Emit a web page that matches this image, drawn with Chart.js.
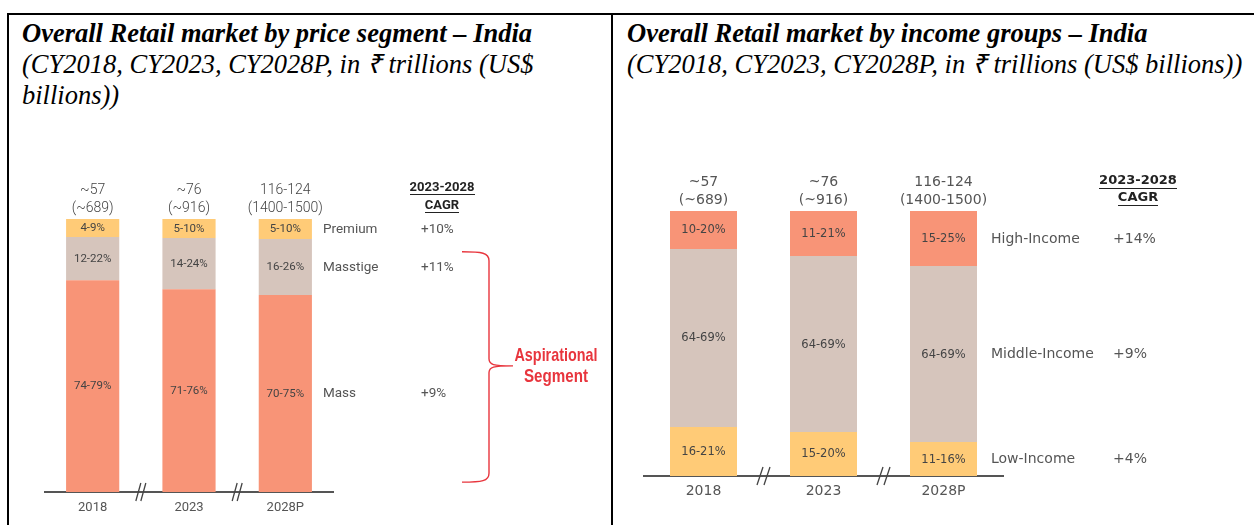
<!DOCTYPE html>
<html><head><meta charset="utf-8">
<script src="https://cdn.jsdelivr.net/npm/chart.js@4.4.1/dist/chart.umd.min.js"></script>
<style>
html,body{margin:0;padding:0;background:#fff;}
body{width:1254px;height:525px;position:relative;overflow:hidden;}
.frame{position:absolute;left:7px;top:13px;width:1260px;height:520px;border-top:2px solid #000;border-left:2px solid #000;}
.divider{position:absolute;left:611px;top:13px;width:2px;height:520px;background:#000;}
.title{position:absolute;top:18px;font-family:"Liberation Serif","Times New Roman",serif;font-size:26.5px;line-height:31px;color:#000;white-space:nowrap;}
.title b{font-weight:bold;font-style:italic;}
.title i{font-style:italic;}
canvas{position:absolute;}
</style></head><body>
<div class="frame"></div>
<div class="divider"></div>
<div class="title" style="left:22px"><b>Overall Retail market by price segment – India</b><br><i>(CY2018, CY2023, CY2028P, in ₹ trillions (US$<br>billions))</i></div>
<div class="title" style="left:627px"><b>Overall Retail market by income groups – India</b><br><i>(CY2018, CY2023, CY2028P, in ₹ trillions (US$ billions))</i></div>
<canvas id="c1" width="603" height="415" style="left:8px;top:110px"></canvas>
<canvas id="c2" width="641" height="415" style="left:613px;top:110px"></canvas>
<script>
// ---------- data ----------
const categories = ['2018', '2023', '2028P'];
const totalsINR = ['~57', '~76', '116-124'];
const totalsUSD = ['(~689)', '(~916)', '(1400-1500)'];
const cagrHeader = ['2023-2028', 'CAGR'];

// price segments (bottom to top)
const priceSegments = ['Mass', 'Masstige', 'Premium'];
const massValues = [77.6, 74.3, 72.2];
const masstigeValues = [15.8, 18.7, 20.5];
const premiumValues = [6.6, 7.0, 7.3];
const massLabels = ['74-79%', '71-76%', '70-75%'];
const masstigeLabels = ['12-22%', '14-24%', '16-26%'];
const premiumLabels = ['4-9%', '5-10%', '5-10%'];
const priceCagr = ['+9%', '+11%', '+10%'];
const bracketText = ['Aspirational', 'Segment'];

// income groups (bottom to top)
const incomeGroups = ['Low-Income', 'Middle-Income', 'High-Income'];
const lowValues = [18.5, 16.6, 12.8];
const middleValues = [67.2, 66.4, 66.4];
const highValues = [14.3, 17.0, 20.8];
const lowLabels = ['16-21%', '15-20%', '11-16%'];
const middleLabels = ['64-69%', '64-69%', '64-69%'];
const highLabels = ['10-20%', '11-21%', '15-25%'];
const incomeCagr = ['+4%', '+9%', '+14%'];

const SALMON = '#F89477', BEIGE = '#D6C5BC', YELLOW = '#FFCB77';

// ---------- overlay plugin ----------
const overlay = {
  id: 'overlay',
  afterDraw(chart, args, o) {
    const ctx = chart.ctx, ca = chart.chartArea, ys = chart.scales.y;
    const n = chart.data.labels.length;
    const metas = chart.data.datasets.map((d, i) => chart.getDatasetMeta(i));
    ctx.save();
    ctx.textBaseline = 'middle';
    // in-bar labels
    ctx.textAlign = 'center';
    ctx.font = o.pctFont; ctx.fillStyle = o.pctColor;
    metas.forEach((m, di) => {
      m.data.forEach((el, i) => {
        ctx.fillText(o.segLabels[di][i], el.x, (el.y + el.base) / 2 + 0.5);
      });
    });
    // totals above bars
    ctx.font = o.totFont; ctx.fillStyle = o.totColor;
    metas[metas.length - 1].data.forEach((el, i) => {
      ctx.fillText(o.tot1[i], el.x, el.y + o.totDy[0]);
      ctx.fillText(o.tot2[i], el.x, el.y + o.totDy[1]);
    });
    // side labels and CAGR
    ctx.textAlign = 'left';
    ctx.font = o.sideFont; ctx.fillStyle = o.sideColor;
    metas.forEach((m, di) => {
      const el = m.data[n - 1];
      const cy = (el.y + el.base) / 2 + 0.5;
      ctx.fillText(o.names[di], el.x + el.width / 2 + o.nameDx, cy);
      ctx.fillText(o.cagr[di], ca.right + o.cagrDx, cy);
    });
    // header
    ctx.textAlign = 'center';
    ctx.font = o.headFont; ctx.fillStyle = o.headColor;
    o.head.forEach((t, k) => {
      const y = ca.top + o.headDy[k];
      const x = ca.right + o.headDx;
      ctx.fillText(t, x, y);
      const w = ctx.measureText(t).width;
      ctx.fillRect(Math.round(x - w / 2), Math.round(y + o.ulDy), Math.round(w), 1);
    });
    // axis break marks
    ctx.strokeStyle = o.breakColor; ctx.lineWidth = 1.3;
    const b = metas[0].data;
    for (let i = 0; i < n - 1; i++) {
      const x = (b[i].x + b[i + 1].x) / 2, y = ca.bottom;
      const h = o.breakSize;
      ctx.beginPath();
      ctx.moveTo(x - h[0] - h[1], y + 9); ctx.lineTo(x - h[0] + h[1], y - 9);
      ctx.moveTo(x + h[0] - h[1], y + 9); ctx.lineTo(x + h[0] + h[1], y - 9);
      ctx.stroke();
    }
    // bracket
    if (o.bracket) {
      const br = o.bracket;
      const x0 = ca.right + br.x0, x1 = ca.right + br.x1, xt = ca.right + br.xTip;
      const yT = ys.getPixelForValue(br.top), yM = ys.getPixelForValue(br.mid), yB = ys.getPixelForValue(br.bottom);
      ctx.strokeStyle = br.color; ctx.lineWidth = 1.4;
      ctx.beginPath();
      ctx.moveTo(x0, yT);
      ctx.bezierCurveTo(x0 + 20, yT, x1, yT + 1, x1, yT + 9);
      ctx.lineTo(x1, yM - 7);
      ctx.bezierCurveTo(x1, yM - 1, x1 + 4, yM, xt, yM);
      ctx.moveTo(xt, yM);
      ctx.bezierCurveTo(x1 + 4, yM, x1, yM + 1, x1, yM + 7);
      ctx.lineTo(x1, yB - 9);
      ctx.bezierCurveTo(x1, yB - 1, x0 + 20, yB, x0, yB);
      ctx.stroke();
      ctx.fillStyle = br.color; ctx.font = br.font; ctx.textAlign = 'center';
      br.text.forEach((t, k) => {
        const w = ctx.measureText(t).width;
        const s = br.widths[k] / w;
        ctx.save();
        ctx.translate(ca.right + br.textDx, yM + br.textDy[k]);
        ctx.scale(s, 1);
        ctx.fillText(t, 0, 0);
        ctx.restore();
      });
    }
    ctx.restore();
  }
};

function makeChart(id, cfg) {
  return new Chart(document.getElementById(id), {
    type: 'bar',
    data: {
      labels: categories,
      datasets: cfg.series.map((s) => ({
        label: s.name, data: s.values, backgroundColor: s.color,
        borderWidth: 0, categoryPercentage: 1, barPercentage: cfg.barPct
      }))
    },
    options: {
      responsive: false, animation: false, devicePixelRatio: 1,
      layout: { padding: cfg.padding },
      plugins: { legend: { display: false }, tooltip: { enabled: false }, overlay: cfg.overlay },
      scales: {
        x: {
          stacked: true,
          grid: { display: false, drawTicks: false },
          border: { display: true, color: '#555', width: 2 },
          ticks: { color: '#555', font: cfg.tickFont, padding: cfg.tickPad },
          afterFit: (s) => { s.height = cfg.axisHeight; }
        },
        y: { stacked: true, display: false, min: 0, max: 100 }
      }
    },
    plugins: [overlay]
  });
}

makeChart('c1', {
  barPct: 53 / 96,
  padding: { left: 36.5, right: 277.5, top: 109, bottom: 0 },
  axisHeight: 33, tickPad: 8,
  tickFont: { family: 'Roboto', size: 13 },
  series: [
    { name: priceSegments[0], values: massValues, color: SALMON },
    { name: priceSegments[1], values: masstigeValues, color: BEIGE },
    { name: priceSegments[2], values: premiumValues, color: YELLOW }
  ],
  overlay: {
    segLabels: [massLabels, masstigeLabels, premiumLabels],
    pctFont: '11.5px Roboto', pctColor: '#444',
    tot1: totalsINR, tot2: totalsUSD, totDy: [-29, -11],
    totFont: '300 14px Roboto', totColor: '#444',
    names: priceSegments, cagr: priceCagr, nameDx: 11, cagrDx: 87.5,
    sideFont: '13.5px Roboto', sideColor: '#555',
    head: cagrHeader, headDx: 108.5, headDy: [-31, -13], ulDy: 6,
    headFont: 'bold 13px Roboto', headColor: '#222',
    breakColor: '#444', breakSize: [2.5, 2.5],
    bracket: {
      x0: 128.5, x1: 155.5, xTip: 179.5, top: 88, mid: 46.2, bottom: 3.6,
      color: '#E8353D', font: 'bold 19px "Liberation Sans", Arial, sans-serif',
      text: bracketText, textDx: 222.5, textDy: [-10, 11], widths: [83, 64]
    }
  }
});

makeChart('c2', {
  barPct: 67 / 120,
  padding: { left: 30.5, right: 250.5, top: 101, bottom: 0 },
  axisHeight: 49, tickPad: 7,
  tickFont: { family: 'DejaVu Sans', size: 14 },
  series: [
    { name: incomeGroups[0], values: lowValues, color: YELLOW },
    { name: incomeGroups[1], values: middleValues, color: BEIGE },
    { name: incomeGroups[2], values: highValues, color: SALMON }
  ],
  overlay: {
    segLabels: [lowLabels, middleLabels, highLabels],
    pctFont: '11.5px "DejaVu Sans"', pctColor: '#444',
    tot1: totalsINR, tot2: totalsUSD, totDy: [-29, -11],
    totFont: '14px "DejaVu Sans"', totColor: '#555',
    names: incomeGroups, cagr: incomeCagr, nameDx: 14, cagrDx: 109.5,
    sideFont: '14px "DejaVu Sans"', sideColor: '#555',
    head: cagrHeader, headDx: 134.5, headDy: [-30, -13], ulDy: 7,
    headFont: 'bold 13px "DejaVu Sans"', headColor: '#222',
    breakColor: '#444', breakSize: [3.5, 3],
    bracket: null
  }
});
</script>
</body></html>
